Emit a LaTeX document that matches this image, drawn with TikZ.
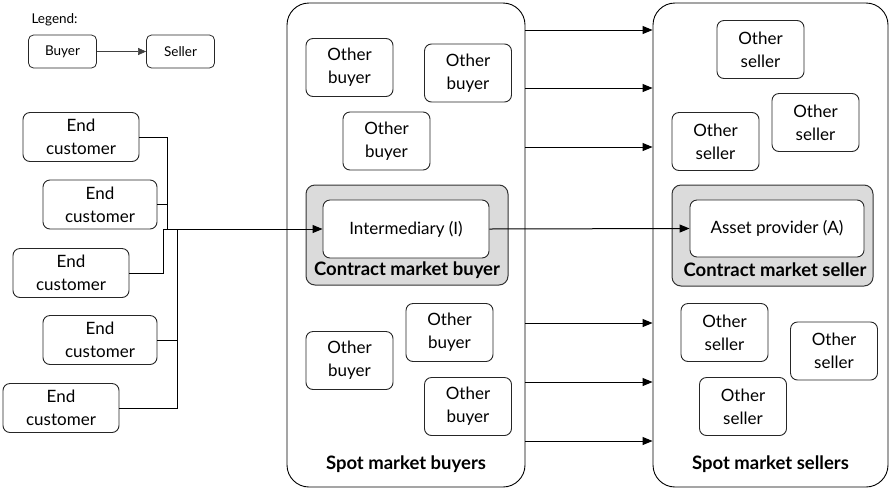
\documentclass[tikz,border=0pt]{standalone}
\usepackage{fontspec}
\setmainfont{Lato}
\usetikzlibrary{arrows.meta}
\begin{document}
\begin{tikzpicture}[x=1pt,y=-1pt,
  every node/.style={font=\fontsize{17}{23}\selectfont},
  party/.style={draw=black!85,line width=0.9pt,rounded corners=7pt,fill=white,
    align=center,inner sep=0pt,minimum width=87pt,minimum height=58pt},
  endcust/.style={party,minimum width=116pt,minimum height=49pt},
  legendbox/.style={draw=black!85,line width=0.8pt,rounded corners=5pt,
    inner sep=0pt,minimum width=68pt,minimum height=33pt,font=\fontsize{13.5}{15}\selectfont},
  panel/.style={draw=black,line width=0.9pt,rounded corners=22pt,inner sep=0pt},
  contract/.style={draw=black!80,line width=1pt,rounded corners=9pt,fill=black!14,inner sep=0pt},
  role/.style={party,minimum height=58pt},
  caption/.style={font=\fontsize{18.5}{22}\bfseries\selectfont},
  flow/.style={line width=1pt,-{Triangle[length=10pt,width=8pt]}},
  feed/.style={line width=1pt}]
\useasboundingbox (0,0) rectangle (891,491);

% legend
\node[anchor=west,font=\fontsize{13.5}{15}\selectfont] (legend) at (28,20) {Legend:};
\node[legendbox] (lbuyer) at (62.5,51.5) {Buyer};
\node[legendbox] (lseller) at (180.5,51.5) {Seller};
\draw[line width=0.6pt,black!75,-{Triangle[length=8pt,width=7pt]}] (lbuyer) -- (lseller);

% market panels
\node[panel,minimum width=238pt,minimum height=484pt] (spotB) at (406,245) {};
\node[panel,minimum width=235pt,minimum height=484pt] (spotS) at (770.5,245) {};
\node[caption] (capB) at (406,464) {Spot market buyers};
\node[caption] (capS) at (770.5,464) {Spot market sellers};

% contract parties
\node[contract,minimum width=202pt,minimum height=100pt] (cbuy) at (407,235) {};
\node[contract,minimum width=201pt,minimum height=101pt] (csell) at (772.5,235.5) {};
\node[role,minimum width=166pt] (inter) at (406,229) {Intermediary (I)};
\node[role,minimum width=174pt,minimum height=57pt] (asset) at (777,228.5) {Asset provider (A)};
\node[caption] (cbuylab) at (407,270) {Contract market buyer};
\node[caption] (cselllab) at (775,270) {Contract market seller};

% other buyers
\node[party] (ob1) at (349.5,67.5) {Other\\buyer};
\node[party] (ob2) at (468,73) {Other\\buyer};
\node[party] (ob3) at (386.5,141) {Other\\buyer};
\node[party] (ob4) at (349.5,360.5) {Other\\buyer};
\node[party] (ob5) at (449.5,332.5) {Other\\buyer};
\node[party] (ob6) at (468,406.5) {Other\\buyer};

% other sellers
\node[party] (os1) at (760.5,49.5) {Other\\seller};
\node[party] (os2) at (815.5,122.5) {Other\\seller};
\node[party] (os3) at (715.5,141.5) {Other\\seller};
\node[party] (os4) at (724.5,332.5) {Other\\seller};
\node[party] (os5) at (834,351) {Other\\seller};
\node[party] (os6) at (743,406.5) {Other\\seller};

% end customers
\node[endcust] (ec1) at (81,137) {End\\customer};
\node[endcust,minimum width=114pt] (ec2) at (100,204.5) {End\\customer};
\node[endcust] (ec3) at (71,273) {End\\customer};
\node[endcust,minimum width=114pt] (ec4) at (100,340) {End\\customer};
\node[endcust] (ec5) at (61,408) {End\\customer};

% collecting lines of the end customers
\coordinate (busA) at (167,229);
\coordinate (busB) at (163,229);
\coordinate (busC) at (177,229);
\draw[feed] (ec1.east) -| (busA);
\draw[feed] (ec2.east) -- (ec2.east -| busA);
\draw[feed] (ec3.east) -| (busB);
\draw[feed] (ec4.east) -| (busC);
\draw[feed] (ec5.east) -| (busC);
\draw[flow] (busB) -- (inter.west);

% contract flow
\draw[flow] (inter.east) -- (asset.west);

% spot market flows
\foreach \y [count=\i] in {30,88,147,323,382,441}{
  \coordinate (lvl\i) at (0,\y);
  \draw[flow] (spotB.east |- lvl\i) -- (spotS.west |- lvl\i);
}
\end{tikzpicture}
\end{document}
